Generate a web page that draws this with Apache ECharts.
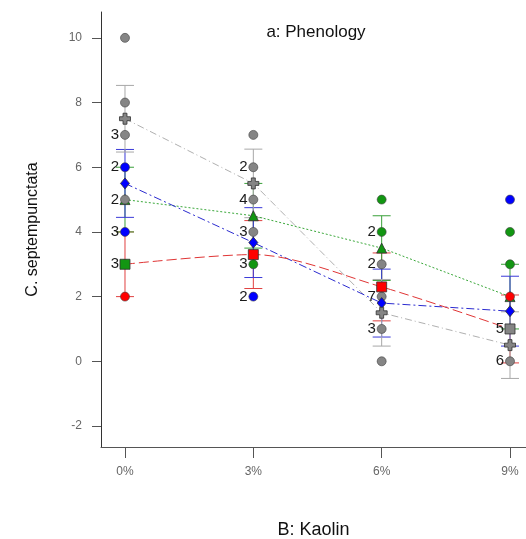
<!DOCTYPE html>
<html><head><meta charset="utf-8">
<script src="https://cdn.jsdelivr.net/npm/echarts@6/dist/echarts.min.js"></script>
<style>html,body{margin:0;padding:0;background:#fff}#c{width:526px;height:539px}</style>
</head><body><div id="c"></div>
<script>
// Kaolin levels (x) and tick labels
const kaolin = [0, 3, 6, 9];
const xTickLabels = ['0%', '3%', '6%', '9%'];
const yTicks = [-2, 0, 2, 4, 6, 8, 10];

// Means per phenology level
const meanRed   = [3.0, 3.3, 2.3, 1.0];
const meanGreen = [5.0, 4.5, 3.5, 2.0];
const meanBlue  = [5.5, 3.67, 1.8, 1.55];
const meanGray  = [7.5, 5.5, 1.5, 0.5];

// LSD half-widths
const halfRed   = [1.0, 1.05, 1.05, 1.05];
const halfGreen = [1.0, 1.0, 1.0, 1.0];
const halfBlue  = [1.05, 1.08, 1.05, 1.08];
const halfGray  = [1.03, 1.06, 1.03, 1.03];

// Design points: [kaolin, value, count]
const ptsRed   = [[0, 2, 1], [9, 2, 1]];
const ptsGreen = [[0, 3, 3], [3, 3, 3], [6, 5, 1], [6, 4, 2], [9, 4, 1], [9, 3, 1]];
const ptsBlue  = [[0, 6, 2], [0, 4, 3], [3, 2, 2], [9, 5, 1]];
const ptsGray  = [[0, 10, 1], [0, 8, 1], [0, 7, 3], [0, 5, 2], [3, 7, 1], [3, 6, 2], [3, 5, 4], [3, 4, 3],
                  [6, 3, 2], [6, 2, 7], [6, 1, 3], [6, 0, 1], [9, 1, 5], [9, 0, 6]];

const C = {red: '#ff0000', green: '#129612', blue: '#0000ff', gray: '#858585'};
const LINE = {red: '#e03535', green: '#3aa83a', blue: '#2b2bd0', gray: '#b0b0b0'};
const BAR = {red: '#e04040', green: '#3aa03a', blue: '#3a3ad8', gray: '#a8a8a8'};
const FONT = '"Liberation Sans", Arial, sans-serif';
const CROSS = 'path://M3.2,0 H6.8 V3.2 H10 V6.8 H6.8 V10 H3.2 V6.8 H0 V3.2 H3.2 Z';

function errSeries(name, means, halves, color) {
  return {
    type: 'custom', name: name, z: 2,
    data: kaolin.map((k, i) => [k, means[i] - halves[i], means[i] + halves[i]]),
    renderItem: function (params, api) {
      const x = api.value(0);
      const p1 = api.coord([x, api.value(1)]);
      const p2 = api.coord([x, api.value(2)]);
      const w = 9;
      const st = {stroke: color, lineWidth: 1};
      return {type: 'group', children: [
        {type: 'line', shape: {x1: p1[0], y1: p1[1], x2: p2[0], y2: p2[1]}, style: st},
        {type: 'line', shape: {x1: p1[0] - w, y1: p1[1], x2: p1[0] + w, y2: p1[1]}, style: st},
        {type: 'line', shape: {x1: p2[0] - w, y1: p2[1], x2: p2[0] + w, y2: p2[1]}, style: st}
      ]};
    }
  };
}
function lineSeries(means, color, dash, smooth, z) {
  return {type: 'line', data: kaolin.map((k, i) => [k, means[i]]), showSymbol: false, symbol: 'none',
    smooth: smooth, z: z, lineStyle: {color: color, width: 1, type: dash}, silent: true};
}
function ptsSeries(pts, color) {
  return {type: 'scatter', z: 5, symbol: 'circle', symbolSize: 9,
    data: pts.map(p => [p[0], p[1], p[2]]),
    itemStyle: {color: color, borderColor: '#404040', borderWidth: 0.6, opacity: 1},
    label: {show: true, position: 'left', distance: 1, color: '#1a1a1a', fontSize: 15, fontFamily: FONT,
      formatter: p => (p.value[2] > 1 ? String(p.value[2]) : '')}};
}
function meanSeries(means, color, symbol, size, z, fills) {
  return {type: 'scatter', z: z, symbol: symbol, symbolSize: size,
    data: kaolin.map((k, i) => ({value: [k, means[i]], itemStyle: fills && fills[i] ? {color: fills[i]} : undefined})),
    itemStyle: {color: color, borderColor: '#303030', borderWidth: 0.8, opacity: 1}};
}

const chart = echarts.init(document.getElementById('c'), null, {renderer: 'canvas'});
chart.setOption({
  animation: false,
  backgroundColor: '#fff',
  title: {text: 'a: Phenology', left: 311, top: 19, textAlign: 'center',
    textStyle: {fontFamily: FONT, fontSize: 17, fontWeight: 'normal', color: '#111'}},
  grid: {left: 101, right: 0, top: 12, bottom: 92, containLabel: false, outerBoundsMode: 'none'},
  xAxis: {
    type: 'value', min: -0.561, max: 9.374,
    name: 'B: Kaolin', nameLocation: 'middle', nameGap: 74,
    nameTextStyle: {fontFamily: FONT, fontSize: 18, color: '#111'},
    axisLine: {show: true, onZero: false, lineStyle: {color: '#555', width: 1}},
    axisTick: {show: true, length: 11, customValues: kaolin, lineStyle: {color: '#555'}},
    axisLabel: {customValues: kaolin, margin: 19, color: '#666', fontSize: 12, fontFamily: FONT,
      formatter: v => xTickLabels[kaolin.indexOf(v)]},
    splitLine: {show: false}
  },
  yAxis: {
    type: 'value', min: -2.65, max: 10.8,
    name: 'C. septempunctata', nameLocation: 'middle', nameGap: 60,
    nameTextStyle: {fontFamily: FONT, fontSize: 16, color: '#111'},
    axisLine: {show: true, onZero: false, lineStyle: {color: '#333', width: 1}},
    axisTick: {show: true, length: 9, customValues: yTicks, lineStyle: {color: '#555'}},
    axisLabel: {customValues: yTicks, margin: 19, color: '#666', fontSize: 12, fontFamily: FONT},
    splitLine: {show: false}
  },
  series: [
    errSeries('red', meanRed, halfRed, BAR.red),
    errSeries('green', meanGreen, halfGreen, BAR.green),
    errSeries('blue', meanBlue, halfBlue, BAR.blue),
    errSeries('gray', meanGray, halfGray, BAR.gray),
    lineSeries(meanGray, LINE.gray, [7, 3, 1, 3], false, 3),
    lineSeries(meanGreen, LINE.green, [2, 2], false, 3),
    lineSeries(meanBlue, LINE.blue, [8, 3, 2, 3], false, 3),
    lineSeries(meanRed, LINE.red, [10, 4], 0.3, 3),
    meanSeries(meanGreen, C.green, 'triangle', 10, 4),
    ptsSeries(ptsRed, C.red),
    ptsSeries(ptsGreen, C.green),
    ptsSeries(ptsBlue, C.blue),
    ptsSeries(ptsGray, C.gray),
    meanSeries(meanRed, C.red, 'rect', 10, 6, [C.green, null, null, C.gray]),
    meanSeries(meanBlue, C.blue, 'diamond', [9, 11], 6),
    meanSeries(meanGray, C.gray, CROSS, 11, 6)
  ]
});
</script>
</body></html>
